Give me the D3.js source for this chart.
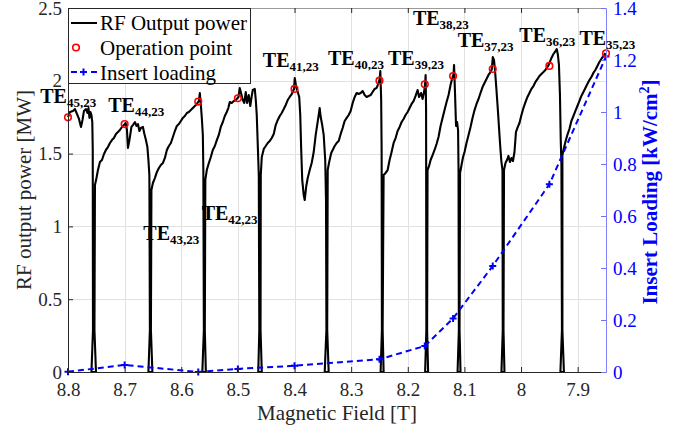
<!DOCTYPE html>
<html><head><meta charset="utf-8">
<script src="https://cdn.jsdelivr.net/npm/d3@7"></script>
<style>
html,body{margin:0;padding:0;background:#fff;}
svg{display:block;}
svg text{font-family:"Liberation Serif","Times New Roman",serif !important;}
</style></head>
<body><svg id="c" width="685" height="429"></svg>
<script>
// ---------- data ----------
const curveField = [
8.800,8.7965,8.7912,8.7877,8.7841,8.7806,8.7771,8.7744,8.7718,8.7683,8.7656,8.7638,8.7621,8.7603,8.7586,8.7571,8.7563,
8.7559,8.7586,8.7506,8.7533,
8.7524,8.7497,8.7471,8.7436,8.7400,8.7365,8.7330,8.7295,8.7259,8.7224,8.7189,8.7153,8.7118,8.7083,8.7048,8.7012,8.6982,8.6959,8.6942,8.6915,8.6880,8.6854,8.6818,8.6792,8.6765,8.6739,8.6713,8.6677,8.6651,8.6624,8.6598,8.6580,8.6563,
8.6554,8.6580,8.6510,8.6536,
8.6527,8.6501,8.6466,8.6430,8.6395,8.6360,8.6325,8.6289,8.6254,8.6219,8.6183,8.6148,8.6113,8.6078,8.6042,8.6007,8.5972,8.5937,8.5901,8.5866,8.5831,8.5795,8.5760,8.5725,8.5690,8.5672,8.5654,8.5637,8.5619,8.5610,
8.5601,8.5628,8.5566,8.5584,
8.5575,8.5549,8.5513,8.5478,8.5443,8.5407,8.5372,8.5337,8.5302,8.5266,8.5231,8.5196,8.5169,8.5143,8.5108,8.5072,8.5037,8.4989,8.4967,8.4940,8.4914,8.4887,8.4861,8.4838,8.4808,8.4781,8.4755,8.4737,8.4702,8.4684,8.4667,8.4649,8.4631,
8.4622,8.4640,8.4578,8.4600,
8.4596,8.4578,8.4543,8.4508,8.4473,8.4437,8.4402,8.4367,8.4332,8.4296,8.4261,8.4226,8.4190,8.4155,8.4120,8.4085,8.4049,8.4009,8.3996,8.3970,8.3943,8.3917,8.3899,8.3882,8.3864,8.3838,8.3820,8.3793,8.3767,8.3732,8.3697,8.3661,8.3626,8.3600,8.3573,8.3556,8.3538,8.3511,8.3485,8.3458,8.3444,
8.3437,8.3467,8.3397,8.3423,
8.3414,8.3388,8.3352,8.3317,8.3291,8.3256,8.3220,8.3185,8.3150,8.3115,8.3079,8.3044,8.3009,8.2973,8.2938,8.2903,8.2868,8.2832,8.2797,8.2762,8.2727,8.2691,8.2656,8.2621,8.2585,8.2550,8.2515,8.2497,8.2485,8.2470,8.2462,
8.2457,8.2480,8.2427,8.2444,
8.2427,8.2391,8.2356,8.2321,8.2286,8.2250,8.2215,8.2180,8.2144,8.2109,8.2074,8.2039,8.2003,8.1968,8.1933,8.1898,8.1862,8.1827,8.1801,8.1765,8.1739,8.1712,8.1694,8.1685,8.1677,
8.1672,8.1694,8.1641,8.1659,
8.1651,8.1624,8.1597,8.1562,8.1527,8.1492,8.1457,8.1421,8.1386,8.1351,8.1315,8.1280,8.1245,8.1219,8.1192,8.1183,8.1166,8.1148,8.1130,8.1112,8.1104,
8.1098,8.1121,8.1069,8.1086,
8.1077,8.1051,8.1024,8.0998,8.0963,8.0927,8.0892,8.0857,8.0821,8.0786,8.0751,8.0716,8.0680,8.0645,8.0610,8.0575,8.0539,8.0516,8.0499,8.0478,8.0460,8.0434,8.0407,8.0381,8.0363,8.0346,8.0328,
8.0323,8.0346,8.0293,8.0310,
8.0301,8.0275,8.0248,8.0222,8.0196,8.0169,8.0143,8.0116,8.0090,8.0064,8.0028,7.9993,7.9958,7.9922,7.9887,7.9852,7.9817,7.9781,7.9746,7.9711,7.9675,7.9640,7.9605,7.9570,7.9522,7.9499,7.9463,7.9428,7.9402,7.9370,7.9349,7.9331,7.9313,7.9299,7.9287,
7.9278,7.9305,7.9243,7.9270,
7.9270,7.9243,7.9208,7.9182,7.9146,7.9111,7.9076,7.9040,7.9005,7.8970,7.8935,7.8899,7.8864,7.8829,7.8793,7.8758,7.8723,7.8688,7.8652,7.8617,7.8582,7.8547,7.8511
];
const curvePower = [
1.751,1.786,1.793,1.806,1.772,1.738,1.683,1.731,1.793,1.806,1.779,1.813,1.745,1.786,1.765,1.717,1.525,
0.288,0,0,0.288,
1.284,1.332,1.387,1.442,1.456,1.497,1.525,1.545,1.573,1.593,1.607,1.635,1.648,1.662,1.683,1.696,1.710,1.662,1.538,1.593,1.683,1.696,1.717,1.690,1.703,1.655,1.676,1.683,1.635,1.593,1.545,1.456,1.353,
0.288,0,0,0.288,
1.250,1.298,1.332,1.374,1.401,1.422,1.435,1.470,1.525,1.552,1.573,1.614,1.655,1.690,1.703,1.724,1.745,1.758,1.779,1.786,1.799,1.813,1.827,1.841,1.861,1.916,1.834,1.745,1.628,1.387,
0.288,0,0,0.288,
1.319,1.387,1.435,1.477,1.525,1.552,1.593,1.628,1.683,1.717,1.758,1.786,1.813,1.854,1.848,1.861,1.868,1.889,1.951,1.909,1.868,1.848,1.923,1.848,1.902,1.827,1.896,1.937,1.944,1.868,1.765,1.559,1.353,
0.288,0,0,0.288,
1.353,1.477,1.532,1.552,1.573,1.587,1.607,1.635,1.696,1.731,1.758,1.779,1.806,1.834,1.868,1.889,1.909,1.944,2.019,1.957,1.923,1.889,1.765,1.525,1.319,1.216,1.181,1.277,1.332,1.387,1.435,1.511,1.628,1.696,1.765,1.813,1.751,1.696,1.628,1.456,1.181,
0.288,0,0,0.288,
1.387,1.442,1.504,1.532,1.552,1.573,1.587,1.635,1.676,1.724,1.745,1.765,1.793,1.848,1.889,1.916,1.909,1.916,1.930,1.902,1.889,1.896,1.902,1.923,1.944,1.951,1.985,2.012,2.067,1.868,1.525,
0.288,0,0,0.288,
1.353,1.367,1.387,1.456,1.511,1.573,1.607,1.655,1.683,1.717,1.738,1.765,1.786,1.813,1.841,1.861,1.896,1.937,1.889,1.916,1.875,1.923,1.978,2.040,1.799,
0.288,0,0,0.288,
1.387,1.415,1.456,1.490,1.525,1.566,1.614,1.690,1.745,1.799,1.854,1.902,1.971,2.012,2.047,2.109,1.916,1.690,1.717,1.662,1.387,
0.288,0,0,0.288,
1.367,1.422,1.477,1.511,1.573,1.628,1.683,1.745,1.799,1.841,1.875,1.916,1.957,1.985,2.012,2.040,2.060,2.081,2.163,2.143,2.074,1.937,1.786,1.628,1.525,1.442,1.387,
0.288,0,0,0.288,
1.387,1.435,1.456,1.484,1.442,1.470,1.449,1.511,1.648,1.676,1.710,1.765,1.813,1.854,1.889,1.916,1.944,1.964,1.992,2.012,2.033,2.047,2.060,2.074,2.102,2.122,2.157,2.184,2.198,2.218,2.177,2.109,1.902,1.593,1.422,
0.288,0,0,0.288,
1.490,1.538,1.593,1.628,1.669,1.724,1.758,1.793,1.827,1.861,1.896,1.923,1.951,1.978,2.005,2.026,2.054,2.074,2.102,2.129,2.150,2.170,2.191
];
const opField = [8.80, 8.70, 8.57, 8.50, 8.40, 8.25, 8.17, 8.12, 8.05, 7.95, 7.85];
const opPower = [1.749, 1.703, 1.857, 1.880, 1.944, 2.001, 1.976, 2.033, 2.081, 2.102, 2.189];
const loadField = [8.80, 8.70, 8.57, 8.50, 8.40, 8.25, 8.17, 8.12, 8.05, 7.95, 7.85];
const loadKW = [0.001, 0.027, 0.0, 0.012, 0.024, 0.049, 0.100, 0.206, 0.408, 0.722, 1.213];
const xTicks = [8.8, 8.7, 8.6, 8.5, 8.4, 8.3, 8.2, 8.1, 8.0, 7.9];
const xTickLabels = ["8.8","8.7","8.6","8.5","8.4","8.3","8.2","8.1","8","7.9"];
const yLeftTicks = [0, 0.5, 1, 1.5, 2, 2.5];
const yLeftLabels = ["0","0.5","1","1.5","2","2.5"];
const yRightTicks = [0, 0.2, 0.4, 0.6, 0.8, 1, 1.2, 1.4];
const yRightLabels = ["0","0.2","0.4","0.6","0.8","1","1.2","1.4"];
const modeNames = ["45,23","44,23","43,23","42,23","41,23","40,23","39,23","38,23","37,23","36,23","35,23"];
const modeLabelField = [8.849, 8.729, 8.667, 8.564, 8.456, 8.341, 8.235, 8.191, 8.112, 8.003, 7.897];
const modeLabelPower = [1.848, 1.788, 0.907, 1.044, 2.097, 2.109, 2.109, 2.383, 2.234, 2.269, 2.246];
const legendNames = ["RF Output power", "Operation point", "Insert loading"];

// ---------- layout ----------
const FONT = '"Liberation Serif","Times New Roman",serif';
const svg = d3.select("#c").attr("font-family", FONT);
const L = 68, R = 606, T = 8, B = 372;
const x = d3.scaleLinear().domain([8.8, 7.85]).range([L, R]);
const yL = d3.scaleLinear().domain([0, 2.5]).range([B, T]);
const yR = d3.scaleLinear().domain([0, 1.4]).range([B, T]);
const dark = "#262626", blue = "#0000ff";

// grid
const grid = svg.append("g");
grid.selectAll("line.gx").data(xTicks).join("line")
  .attr("x1", d => Math.round(x(d)) + 0.5).attr("x2", d => Math.round(x(d)) + 0.5)
  .attr("y1", T).attr("y2", B).attr("stroke", "#e1e1e1").attr("stroke-width", 1);
grid.selectAll("line.gy").data(yLeftTicks).join("line")
  .attr("y1", d => Math.round(yL(d)) + 0.5).attr("y2", d => Math.round(yL(d)) + 0.5)
  .attr("x1", L).attr("x2", R).attr("stroke", "#e1e1e1").attr("stroke-width", 1);

// black curve
const pts = curveField.map((f, i) => [f, curvePower[i]]);
svg.append("path").datum(pts)
  .attr("d", d3.line().x(d => x(d[0])).y(d => yL(d[1])))
  .attr("fill", "none").attr("stroke", "#000").attr("stroke-width", 2.1)
  .attr("stroke-linejoin", "round");

// blue dashed insert loading
const lp = loadField.map((f, i) => [f, loadKW[i]]);
svg.append("path").datum(lp)
  .attr("d", d3.line().x(d => x(d[0])).y(d => yR(d[1])))
  .attr("fill", "none").attr("stroke", blue).attr("stroke-width", 2)
  .attr("stroke-dasharray", "6,4");
svg.selectAll("path.plus").data(lp).join("path")
  .attr("transform", d => `translate(${x(d[0])},${yR(d[1])})`)
  .attr("d", "M-3.5,0H3.5M0,-3.5V3.5")
  .attr("stroke", blue).attr("stroke-width", 2).attr("fill", "none");

// red operation points
svg.selectAll("circle.op").data(opField).join("circle")
  .attr("cx", d => x(d)).attr("cy", (d, i) => yL(opPower[i])).attr("r", 3.3)
  .attr("fill", "none").attr("stroke", "#ff0000").attr("stroke-width", 1.6);

// axes
const fs = "19px";
function styleAxis(g, lineCol, textCol) {
  g.attr("font-family", FONT).attr("font-size", 19);
  g.select(".domain").attr("stroke", lineCol);
  g.selectAll(".tick line").attr("stroke", lineCol);
  g.selectAll("text").attr("fill", textCol).style("font-size", fs).style("font-family", FONT);
}
const ax = svg.append("g").attr("transform", `translate(0,${B})`)
  .call(d3.axisBottom(x).tickValues(xTicks).tickFormat((d, i) => xTickLabels[i])
    .tickSizeInner(-5).tickSizeOuter(0).tickPadding(11));
styleAxis(ax, dark, dark);

const axT = svg.append("g").attr("transform", `translate(0,${T})`)
  .call(d3.axisTop(x).tickValues(xTicks).tickFormat("").tickSizeInner(-5).tickSizeOuter(0));
styleAxis(axT, dark, dark);
axT.select(".domain").attr("stroke", "#9a9a9a");

const ayL = svg.append("g").attr("transform", `translate(${L},0)`)
  .call(d3.axisLeft(yL).tickValues(yLeftTicks).tickFormat((d, i) => yLeftLabels[i])
    .tickSizeInner(-5).tickSizeOuter(0).tickPadding(6));
styleAxis(ayL, dark, dark);

const ayR = svg.append("g").attr("transform", `translate(${R},0)`)
  .call(d3.axisRight(yR).tickValues(yRightTicks).tickFormat((d, i) => yRightLabels[i])
    .tickSizeInner(-5).tickSizeOuter(0).tickPadding(7));
styleAxis(ayR, "#7070ff", blue);
ayR.select(".domain").attr("stroke", "#8080ff");

// axis labels
svg.append("text").attr("x", (L + R) / 2).attr("y", 420).attr("text-anchor", "middle")
  .style("font-size", "21px").attr("fill", dark).text("Magnetic Field [T]");
svg.append("text").attr("transform", `translate(31,${(T + B) / 2}) rotate(-90)`)
  .attr("text-anchor", "middle").style("font-size", "21px").attr("fill", dark)
  .text("RF output power [MW]");
const rl = svg.append("text").attr("transform", `translate(657,${(T + B) / 2 + 2}) rotate(-90)`)
  .attr("text-anchor", "middle").style("font-size", "21px").style("font-weight", "bold")
  .attr("fill", blue);
rl.append("tspan").text("Insert Loading [kW/cm");
rl.append("tspan").attr("dy", -8).style("font-size", "14px").text("2");
rl.append("tspan").attr("dy", 8).text("]");

// mode labels
modeNames.forEach((m, i) => {
  const t = svg.append("text").attr("x", x(modeLabelField[i])).attr("y", yL(modeLabelPower[i]))
    .style("font-weight", "bold").attr("fill", "#000");
  t.append("tspan").style("font-size", "20px").text("TE");
  t.append("tspan").attr("dy", 4).style("font-size", "13px").text(m);
});

// legend
const lg = svg.append("g");
lg.append("rect").attr("x", L + 0.5).attr("y", T + 0.5).attr("width", 182).attr("height", 75)
  .attr("fill", "#fff").attr("stroke", dark).attr("stroke-width", 1);
const rows = [30, 55, 80];
lg.append("line").attr("x1", 71).attr("x2", 97).attr("y1", 23).attr("y2", 23)
  .attr("stroke", "#000").attr("stroke-width", 2);
lg.append("circle").attr("cx", 76).attr("cy", 47.5).attr("r", 3.3)
  .attr("fill", "none").attr("stroke", "#ff0000").attr("stroke-width", 1.6);
lg.append("line").attr("x1", 71).attr("x2", 97).attr("y1", 72).attr("y2", 72)
  .attr("stroke", blue).attr("stroke-width", 2).attr("stroke-dasharray", "6,4");
lg.append("path").attr("transform", "translate(83.5,72)").attr("d", "M-3.5,0H3.5M0,-3.5V3.5")
  .attr("stroke", blue).attr("stroke-width", 2);
legendNames.forEach((n, i) => {
  lg.append("text").attr("x", 100).attr("y", rows[i]).style("font-size", "21px")
    .attr("fill", "#000").text(n);
});
</script></body></html>
